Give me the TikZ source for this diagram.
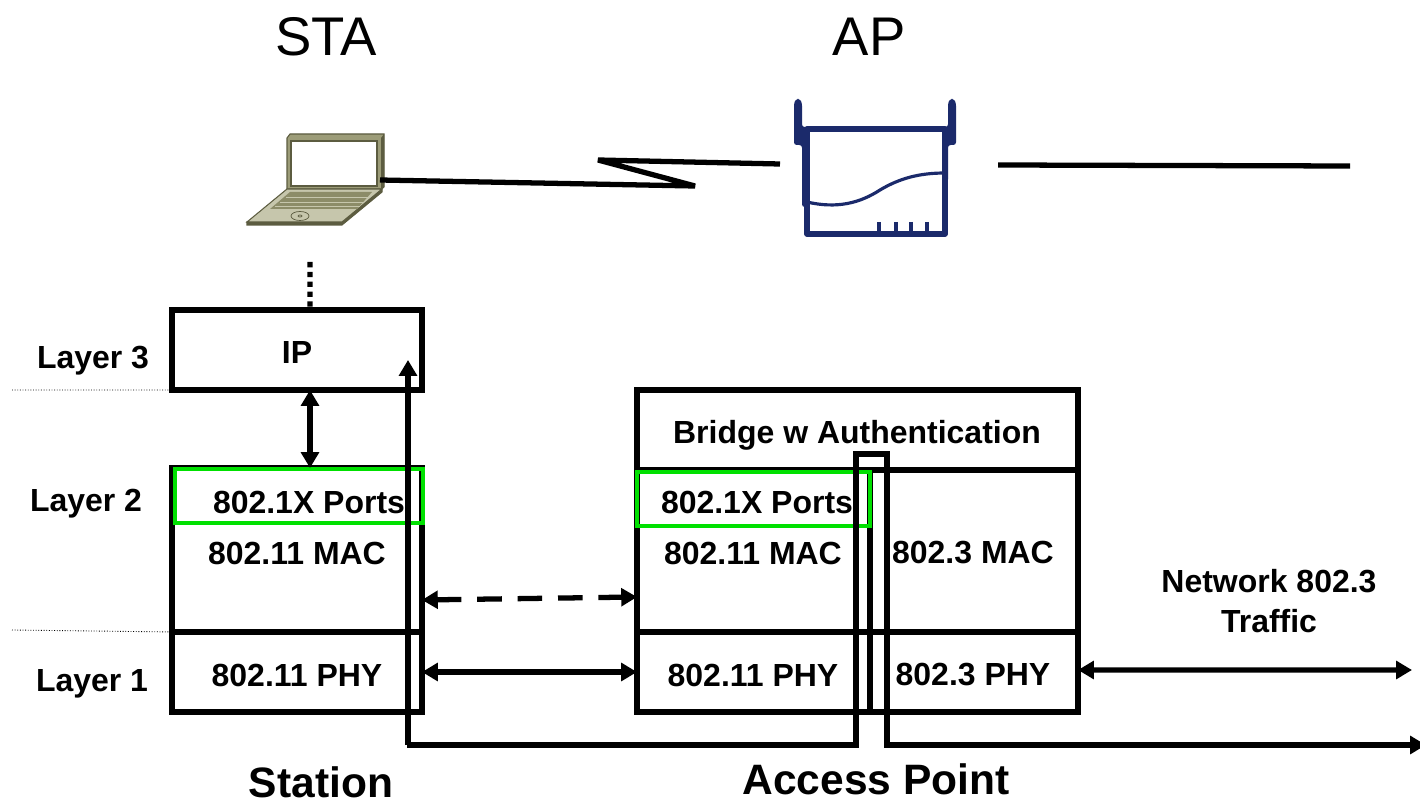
\documentclass[tikz,border=0pt]{standalone}
\usepackage{fontspec}
\setmainfont{Liberation Sans}
\usetikzlibrary{arrows.meta}
\definecolor{apblue}{HTML}{1B2A6B}
\definecolor{lapdark}{HTML}{5C5C40}
\definecolor{lapmid}{HTML}{9C9C78}
\definecolor{lapbase}{HTML}{C6C6AC}
\definecolor{lapkeys}{HTML}{8C8C68}
\definecolor{portgreen}{HTML}{00E000}
\begin{document}
\begin{tikzpicture}[x=.02cm,y=-.02cm,
		txt/.style={font=\fontsize{18.2}{20}\selectfont\bfseries,inner sep=0pt},
		bigtxt/.style={font=\fontsize{24.2}{26}\selectfont\bfseries,inner sep=0pt},
		headtxt/.style={font=\fontsize{31}{32}\selectfont,inner sep=0pt},
		layerbox/.style={draw,line width=3pt,inner sep=0pt,outer sep=0pt},
		portbox/.style={draw=portgreen,line width=2.4pt,inner sep=0pt,outer sep=0pt},
		link/.style={line width=3pt},
		arr/.style={line width=3pt,{Triangle[length=9pt,width=10pt]}-{Triangle[length=9pt,width=10pt]}},
		apline/.style={draw=apblue,line width=3pt}]
	\useasboundingbox (0,0) rectangle (1420,800);

	\node[headtxt] (stahead) at (326,37) {STA};
	\node[headtxt] (aphead) at (869,37) {AP};

	\filldraw[fill=lapmid,draw=lapdark,line width=.6pt] (287,138) -- (290,134) -- (384,134) -- (384,187) -- (381,189) -- (287,189) -- cycle;
	\fill[lapdark] (381,138) -- (384,134) -- (384,187) -- (381,189) -- cycle;
	\filldraw[fill=white,draw=lapdark,line width=.6pt] (291,141) rectangle (377,186);
	\filldraw[fill=lapdark,draw=lapdark,line width=.6pt] (247,222) -- (342,222) -- (382,189) -- (382,192) -- (342,225) -- (247,225) -- cycle;
	\filldraw[fill=lapbase,draw=lapdark,line width=.6pt] (287,189) -- (382,189) -- (342,222) -- (247,222) -- cycle;
	\fill[lapkeys] (290,192) -- (372,192) -- (357,209) -- (270,209) -- cycle;
	\foreach \ky/\kxa/\kxb in {197/286/368,202/280/364,206/275/360}
		\draw[lapbase,line width=.5pt] (\kxa,\ky) -- (\kxb,\ky);
	\draw[lapdark,line width=.4pt] (300,216) ellipse (9 and 4.5);
	\draw[lapdark,line width=.4pt] (300,216) ellipse (2 and 1);

	\fill[apblue,rounded corners=1.5pt] (794,145) -- (794,103) -- (796,99) -- (800,99) -- (802,103) -- (802,127) -- (807,127) -- (807,207) -- (802,207) -- (802,145) -- cycle;
	\fill[apblue,rounded corners=1.5pt] (956,145) -- (956,103) -- (954,99) -- (950,99) -- (948,103) -- (948,127) -- (945,127) -- (945,182) -- (948,182) -- (948,145) -- cycle;
	\draw[apline,line join=round] (807,129) rectangle (945,234);
	\draw[apblue,line width=1.8pt] (807,202) .. controls (837,209) and (860,203) .. (880,190) .. controls (900,178) and (920,173) .. (945,173);
	\foreach \tx in {879,896,911,927}
		\draw[apblue,line width=2.8pt] (\tx,222) -- (\tx,234);

	\coordinate (laptop) at (380,180);
	\coordinate (zigb) at (695,186);
	\coordinate (zigc) at (598,160);
	\coordinate (apant) at (780,164);
	\coordinate (aplan) at (998,165);
	\coordinate (lanend) at (1350,166);
	\draw[link,line join=bevel] (laptop) -- (zigb) -- (zigc) -- (apant);
	\draw[link] (aplan) -- (lanend);

	\node[layerbox,minimum width=5cm,minimum height=1.6cm] (ipbox) at (297,350) {};
	\node[layerbox,minimum width=5cm,minimum height=3.28cm] (stamac) at (297,550) {};
	\node[layerbox,minimum width=5cm,minimum height=1.6cm] (staphy) at (297,672) {};
	\node[layerbox,minimum width=8.82cm,minimum height=1.6cm] (bridgebox) at (857.5,430) {};
	\node[layerbox,minimum width=4.66cm,minimum height=3.24cm] (apmac) at (753.5,551) {};
	\node[layerbox,minimum width=4.16cm,minimum height=3.24cm] (ethmac) at (974,551) {};
	\node[layerbox,minimum width=4.66cm,minimum height=1.6cm] (apphy) at (753.5,672) {};
	\node[layerbox,minimum width=4.16cm,minimum height=1.6cm] (ethphy) at (974,672) {};

	\node[txt] (iptxt) at (297,353) {IP};
	\node[txt] (staphytxt) at (297,675) {802.11 PHY};
	\node[txt] (bridgetxt) at (857,435) {Bridge w Authentication};
	\node[txt] (apphytxt) at (753,675) {802.11 PHY};
	\node[txt] (ethphytxt) at (973,675) {802.3 PHY};
	\node[txt] (lay3) at (93,361) {Layer 3};
	\node[txt] (lay2) at (86,504) {Layer 2};
	\node[txt] (lay1) at (92,684) {Layer 1};
	\node[txt] (staport) at (309,502) {802.1X Ports};
	\node[txt] (stamactxt) at (297,553) {802.11 MAC};
	\node[txt] (apport) at (757,502) {802.1X Ports};
	\node[txt] (apmactxt) at (753,553) {802.11 MAC};
	\node[txt] (ethmactxt) at (973,553) {802.3 MAC};
	\node[txt] (nettxt) at (1269,581) {Network 802.3};
	\node[txt] (traffictxt) at (1269,621) {Traffic};
	\node[bigtxt] (station) at (321,782) {Station};
	\node[bigtxt] (accesspt) at (876,779) {Access Point};

	\node[portbox,minimum width=4.96cm,minimum height=1.08cm] (staportbox) at (299,496) {};
	\node[portbox,minimum width=4.66cm,minimum height=1.08cm] (apportbox) at (753.5,499) {};

	\coordinate (laythree) at (12,390);
	\coordinate (layone) at (12,630);
	\draw[densely dotted,line width=.5pt] (laythree) -- (ipbox.south west);
	\draw[densely dotted,line width=.5pt] (layone) -- (stamac.south west);

	\coordinate (laptopdots) at (310,262);
	\draw[line width=3pt,dash pattern=on 3pt off 2.6pt] (laptopdots) -- ([xshift=.26cm]ipbox.north);
	\draw[arr] ([xshift=.26cm]ipbox.south) -- ([xshift=.26cm]stamac.north);
	\draw[arr,dash pattern=on 14pt off 9pt] ([yshift=-1cm]stamac.east) -- ([yshift=-.92cm]apmac.west);
	\draw[arr] (staphy.east) -- (apphy.west);
	\coordinate (netend) at (1412,670);
	\draw[arr] ([yshift=.04cm]ethphy.east) -- (netend);

	\coordinate (tracetip) at (408,360);
	\coordinate (traceend) at (1426,745);
	\draw[link,-{Triangle[length=9pt,width=10pt]}] (408,745) -- (tracetip);
	\draw[link,-{Triangle[length=9pt,width=10pt]}] (406.7,745) -- (856,745) -- (856,454) -- (887,454) -- (887,745) -- (traceend);
\end{tikzpicture}
\end{document}
